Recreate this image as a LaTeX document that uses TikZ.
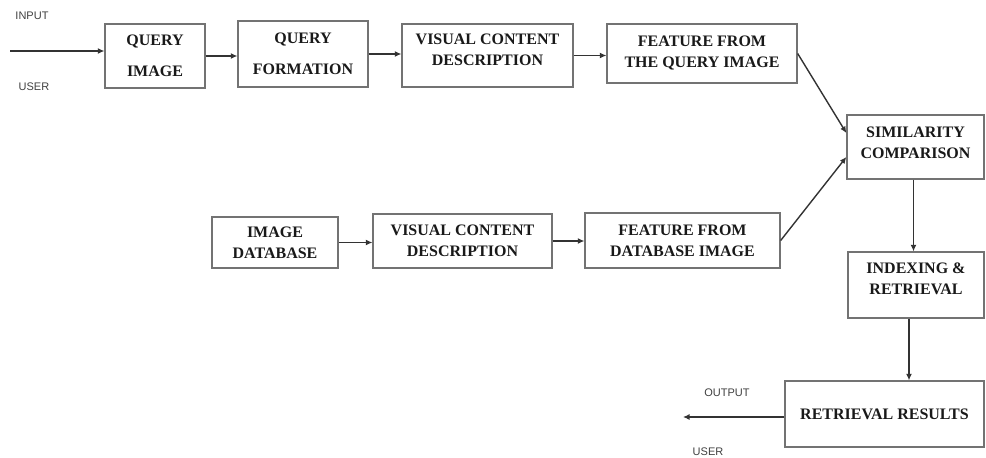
\documentclass[tikz,border=0pt]{standalone}
\usepackage{fontspec}
\setmainfont{Liberation Serif}
\newfontfamily\labelfont{Liberation Sans}
\usetikzlibrary{arrows.meta}

\begin{document}
\begin{tikzpicture}[x=1pt,y=-1pt,
  box/.style={draw=black!55,line width=1.3pt,rectangle,align=center,inner sep=0pt,
    font=\fontsize{16}{21}\selectfont\bfseries,text=black!90},
  flow/.style={draw=black!80,line width=1.4pt,-{Latex[length=6.5pt,width=6pt]}},
  tag/.style={font=\labelfont\fontsize{11}{13}\selectfont,text=black!75}]
 \useasboundingbox (0,0) rectangle (986,458);

 %query side
 \node[box,minimum width=100pt,minimum height=64pt] (qimg) at (155,56) {QUERY\\[10pt]IMAGE};
 \node[box,minimum width=130pt,minimum height=66pt] (qform) at (303,54) {QUERY\\[10pt]FORMATION};
 \node[box,minimum width=171pt,minimum height=63pt] (qvcd) at (487.5,55.5) {VISUAL CONTENT\\DESCRIPTION\\[-10pt]};
 \node[box,minimum width=190pt,minimum height=59pt] (qfeat) at (702,53.5) {FEATURE FROM\\THE QUERY IMAGE\\[-17pt]};

 %database side
 \node[box,minimum width=126pt,minimum height=51pt] (imgdb) at (275,242.5) {IMAGE\\DATABASE};
 \node[box,minimum width=179pt,minimum height=54pt] (dbvcd) at (462.5,241) {VISUAL CONTENT\\DESCRIPTION};
 \node[box,minimum width=195pt,minimum height=55pt] (dbfeat) at (682.5,240.5) {FEATURE FROM\\DATABASE IMAGE};

 %matching and output
 \node[box,minimum width=137pt,minimum height=64pt] (simil) at (915.5,147) {SIMILARITY\\COMPARISON\\[-12pt]};
 \node[box,minimum width=136pt,minimum height=66pt] (index) at (916,285) {INDEXING \&\\RETRIEVAL\\[-8pt]};
 \node[box,minimum width=199pt,minimum height=66pt] (result) at (884.5,414) {RETRIEVAL RESULTS};

 %user in and out
 \coordinate (in) at (10,51);
 \coordinate (out) at (683,417);
 \node[tag] (inlbl) at (32,16) {INPUT};
 \node[tag] (inuser) at (34,87) {USER};
 \node[tag] (outlbl) at (727,393) {OUTPUT};
 \node[tag] (outuser) at (708,452) {USER};

 %arrows
 \draw[flow] (in) -- (in -| qimg.west);
 \draw[flow] (qimg.east) -- (qimg.east -| qform.west);
 \draw[flow] (qform.east) -- (qform.east -| qvcd.west);
 \draw[flow] (qvcd.east) -- (qvcd.east -| qfeat.west);
 \draw[flow] (qfeat.east) -- ([yshift=14pt]simil.west);
 \draw[flow] (imgdb.east) -- (imgdb.east -| dbvcd.west);
 \draw[flow] (dbvcd.east) -- (dbvcd.east -| dbfeat.west);
 \draw[flow] (dbfeat.east) -- ([yshift=-10pt]simil.west);
 \draw[flow] ([xshift=-2pt]simil.south) -- ([xshift=-2pt]simil.south |- index.north);
 \draw[flow] ([xshift=-7pt]index.south) -- ([xshift=-7pt]index.south |- result.north);
 \draw[flow] ([yshift=-3pt]result.west) -- ([yshift=-3pt]result.west -| out);
\end{tikzpicture}
\end{document}
